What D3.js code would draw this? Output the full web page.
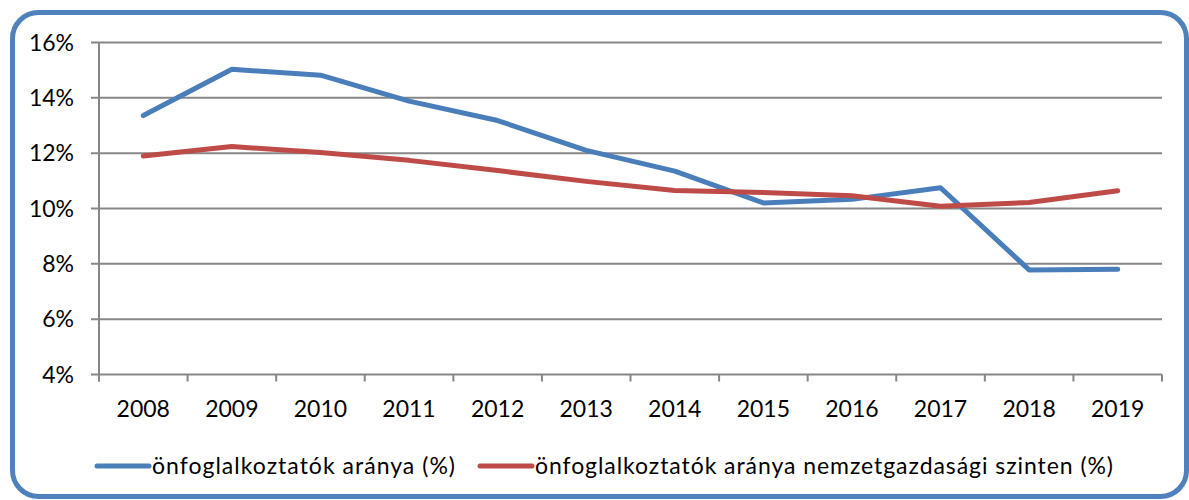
<!DOCTYPE html>
<html><head><meta charset="utf-8">
<script src="https://cdn.jsdelivr.net/npm/d3@7"></script>
<style>html,body{margin:0;padding:0;background:#fff;} svg{display:block;}</style>
</head><body>
<svg id="c" width="1189" height="500"></svg>
<script>
const years = ["2008","2009","2010","2011","2012","2013","2014","2015","2016","2017","2018","2019"];
const selfEmployed = [13.36, 15.03, 14.82, 13.88, 13.18, 12.1, 11.35, 10.2, 10.33, 10.75, 7.78, 7.8];
const selfEmployedNational = [11.9, 12.24, 12.02, 11.74, 11.37, 10.98, 10.65, 10.58, 10.46, 10.08, 10.22, 10.64];
const yTicks = [4, 6, 8, 10, 12, 14, 16];
const seriesNames = ["önfoglalkoztatók aránya (%)", "önfoglalkoztatók aránya nemzetgazdasági szinten (%)"];
const colors = ["#4A7EBB", "#BE4B48"];

const svg = d3.select("#c");
const font = "Lato, 'Open Sans', sans-serif";

svg.append("rect").attr("x", 12.5).attr("y", 12.5).attr("width", 1174).attr("height", 484)
  .attr("rx", 26).attr("fill", "#fff").attr("stroke", "#4F81BD").attr("stroke-width", 5);

const L = 99, R = 1162, T = 42.5, B = 374.5;
const x = d3.scaleBand().domain(years).range([L, R]);
const y = d3.scaleLinear().domain([4, 16]).range([B, T]);

const grid = "#878787";
svg.append("g").selectAll("line").data(yTicks).join("line")
  .attr("x1", L - 8).attr("x2", R).attr("y1", d => y(d)).attr("y2", d => y(d))
  .attr("stroke", grid).attr("stroke-width", 2);
svg.append("line").attr("x1", L).attr("x2", L).attr("y1", T).attr("y2", B + 7).attr("stroke", grid).attr("stroke-width", 2);
const xt = years.map(d => x(d)).concat([R]);
svg.append("g").selectAll("line").data(xt).join("line")
  .attr("x1", d => d).attr("x2", d => d).attr("y1", B).attr("y2", B + 7)
  .attr("stroke", grid).attr("stroke-width", 2);

svg.append("g").selectAll("text").data(yTicks).join("text")
  .attr("x", 74).attr("y", d => y(d)).attr("dy", "0.36em").attr("text-anchor", "end")
  .attr("font-family", font).attr("font-size", 23).attr("fill", "#000").text(d => d + "%");
svg.append("g").selectAll("text").data(years).join("text")
  .attr("x", d => x(d) + x.bandwidth() / 2).attr("y", 417).attr("text-anchor", "middle")
  .attr("font-family", font).attr("font-size", 23).attr("fill", "#000").text(d => d);

const line = d3.line().x((d, i) => x(years[i]) + x.bandwidth() / 2).y(d => y(d));
[selfEmployed, selfEmployedNational].forEach((s, i) => {
  svg.append("path").datum(s).attr("d", line).attr("fill", "none")
    .attr("stroke", colors[i]).attr("stroke-width", 5).attr("stroke-linecap", "round").attr("stroke-linejoin", "round");
});

const legX = [97, 480];
const legW = [303, 578];
seriesNames.forEach((n, i) => {
  svg.append("line").attr("x1", legX[i]).attr("x2", legX[i] + 52).attr("y1", 466).attr("y2", 466)
    .attr("stroke", colors[i]).attr("stroke-width", 5).attr("stroke-linecap", "round");
  svg.append("text").attr("x", legX[i] + 55).attr("y", 474)
    .attr("textLength", legW[i]).attr("lengthAdjust", "spacing")
    .attr("font-family", font).attr("font-size", 23).attr("fill", "#000").text(n);
});
</script>
</body></html>
